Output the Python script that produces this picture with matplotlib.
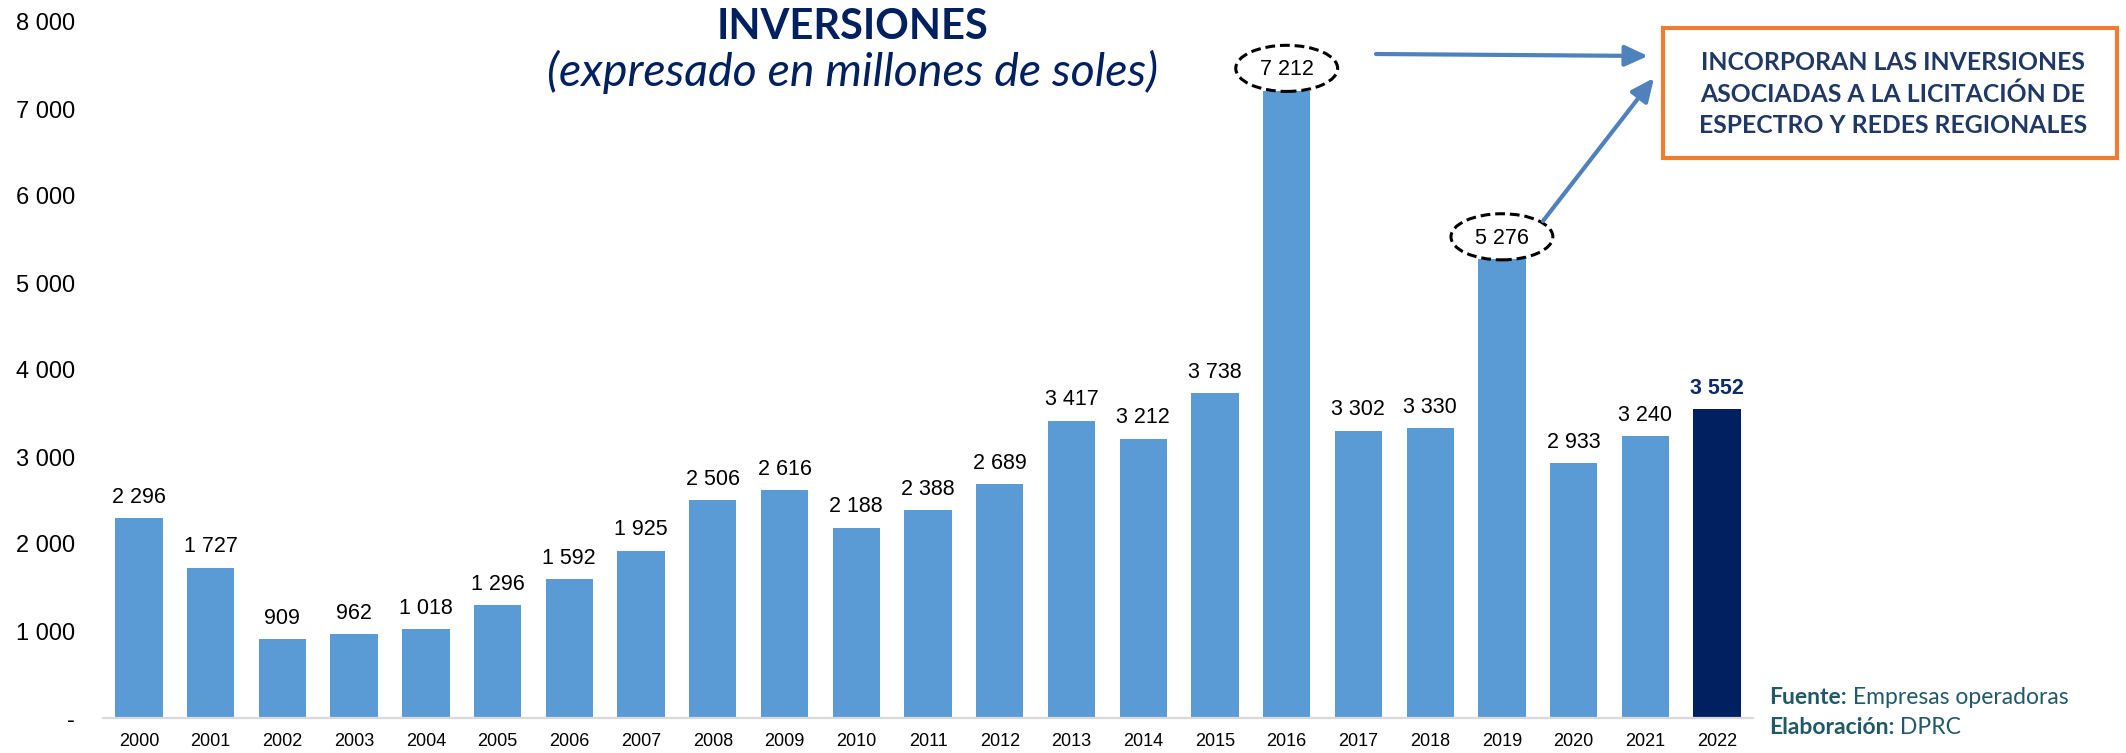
import matplotlib
matplotlib.use("Agg")
import matplotlib.pyplot as plt
from matplotlib.patches import Ellipse, Rectangle, FancyArrowPatch

years = [str(y) for y in range(2000, 2023)]
values = [2296, 1727, 909, 962, 1018, 1296, 1592, 1925, 2506, 2616, 2188, 2388,
          2689, 3417, 3212, 3738, 7212, 3302, 3330, 5276, 2933, 3240, 3552]
highlight_years = ["2016", "2019"]
yticks = [0, 1000, 2000, 3000, 4000, 5000, 6000, 7000, 8000]
title = "INVERSIONES"
subtitle = "(expresado en millones de soles)"
box_text = "INCORPORAN LAS INVERSIONES\nASOCIADAS A LA LICITACIÓN DE\nESPECTRO Y REDES REGIONALES"

BAR = "#5B9BD5"
LAST = "#002060"
NAVY = "#002060"
TEAL = "#215968"

def fmt(v):
    return "-" if v == 0 else f"{v:,}".replace(",", " ")

W, H = 2126, 753
fig = plt.figure(figsize=(W / 100, H / 100), dpi=100)
ax = fig.add_axes([103 / W, 1 - 718 / H, 1650 / W, 696 / H])
plt.rcParams['font.family'] = ['Liberation Sans', 'DejaVu Sans']

x = list(range(len(years)))
colors = [BAR] * (len(years) - 1) + [LAST]
ax.bar(x, values, width=0.66, color=colors, zorder=2)
ax.set_xlim(-0.5, len(years) - 0.5)
ax.set_ylim(0, 8000)
ax.set_yticks(yticks)
ax.set_yticklabels([fmt(v) for v in yticks], fontsize=17, family='Liberation Sans')
ax.set_xticks(x)
ax.set_xticklabels(years, fontsize=13, family='Liberation Sans')
ax.tick_params(axis='y', length=0, pad=20)
ax.tick_params(axis='x', length=0, pad=11)
for s in ['top', 'right', 'left']:
    ax.spines[s].set_visible(False)
ax.spines['bottom'].set_color('#D9D9D9')
ax.spines['bottom'].set_linewidth(1.6)

for i, (yr, v) in enumerate(zip(years, values)):
    last = i == len(years) - 1
    ax.annotate(fmt(v), (i, v), xytext=(0, 11), textcoords='offset points',
                ha='center', va='baseline',
                fontsize=15.5,
                fontweight='bold' if last else 'normal',
                color='#0F2A6B' if last else 'black',
                family='Liberation Sans')
    if yr in highlight_years:
        e = Ellipse((i, v + 255), width=1.42, height=530, fill=False,
                    edgecolor='black', lw=2.2, linestyle=(0, (3.2, 1.6)), zorder=3,
                    clip_on=False)
        ax.add_patch(e)

# Title
fig.text(852 / W, 1 - 27 / H, title, ha='center', va='center', fontsize=30,
         fontweight='bold', color=NAVY, family='Lato')
fig.text(853 / W, 1 - 72 / H, subtitle, ha='center', va='center', fontsize=33.5,
         style='italic', color=NAVY, family='Lato')

# Orange box
box = Rectangle((1663 / W, 1 - 158 / H), 454 / W, 130 / H, transform=fig.transFigure,
                fill=True, facecolor='white', edgecolor='#ED7D31', lw=3)
fig.add_artist(box)
fig.text(1893 / W, 1 - 94 / H, box_text, ha='center', va='center', fontsize=17.8,
         fontweight='bold', color='#1F3864', family='Lato', linespacing=1.42)

# Arrows
arrow_kw = dict(arrowstyle='-|>,head_length=0.7,head_width=0.32', color='#4F81BD',
                lw=3, mutation_scale=20, shrinkA=0, shrinkB=0)
fig.add_artist(FancyArrowPatch(
    (1376 / W, 1 - 54 / H), (1648 / W, 1 - 56 / H), transform=fig.transFigure, **arrow_kw))
fig.add_artist(FancyArrowPatch(
    (1543 / W, 1 - 221 / H), (1654 / W, 1 - 78 / H), transform=fig.transFigure, **arrow_kw))

# Footer
t1 = fig.text(1769 / W, 1 - 697 / H, "Fuente:", ha='left', va='center', fontsize=16.5,
              fontweight='bold', color=TEAL, family='Lato')
ax.annotate(" Empresas operadoras", xy=(1, 0.5), xycoords=t1, ha='left', va='center',
            fontsize=16.5, color=TEAL, family='Lato', annotation_clip=False)
t2 = fig.text(1769 / W, 1 - 727 / H, "Elaboración:", ha='left', va='center', fontsize=16.5,
              fontweight='bold', color=TEAL, family='Lato')
ax.annotate(" DPRC", xy=(1, 0.5), xycoords=t2, ha='left', va='center',
            fontsize=16.5, color=TEAL, family='Lato', annotation_clip=False)

fig.savefig("out.png", dpi=100)
